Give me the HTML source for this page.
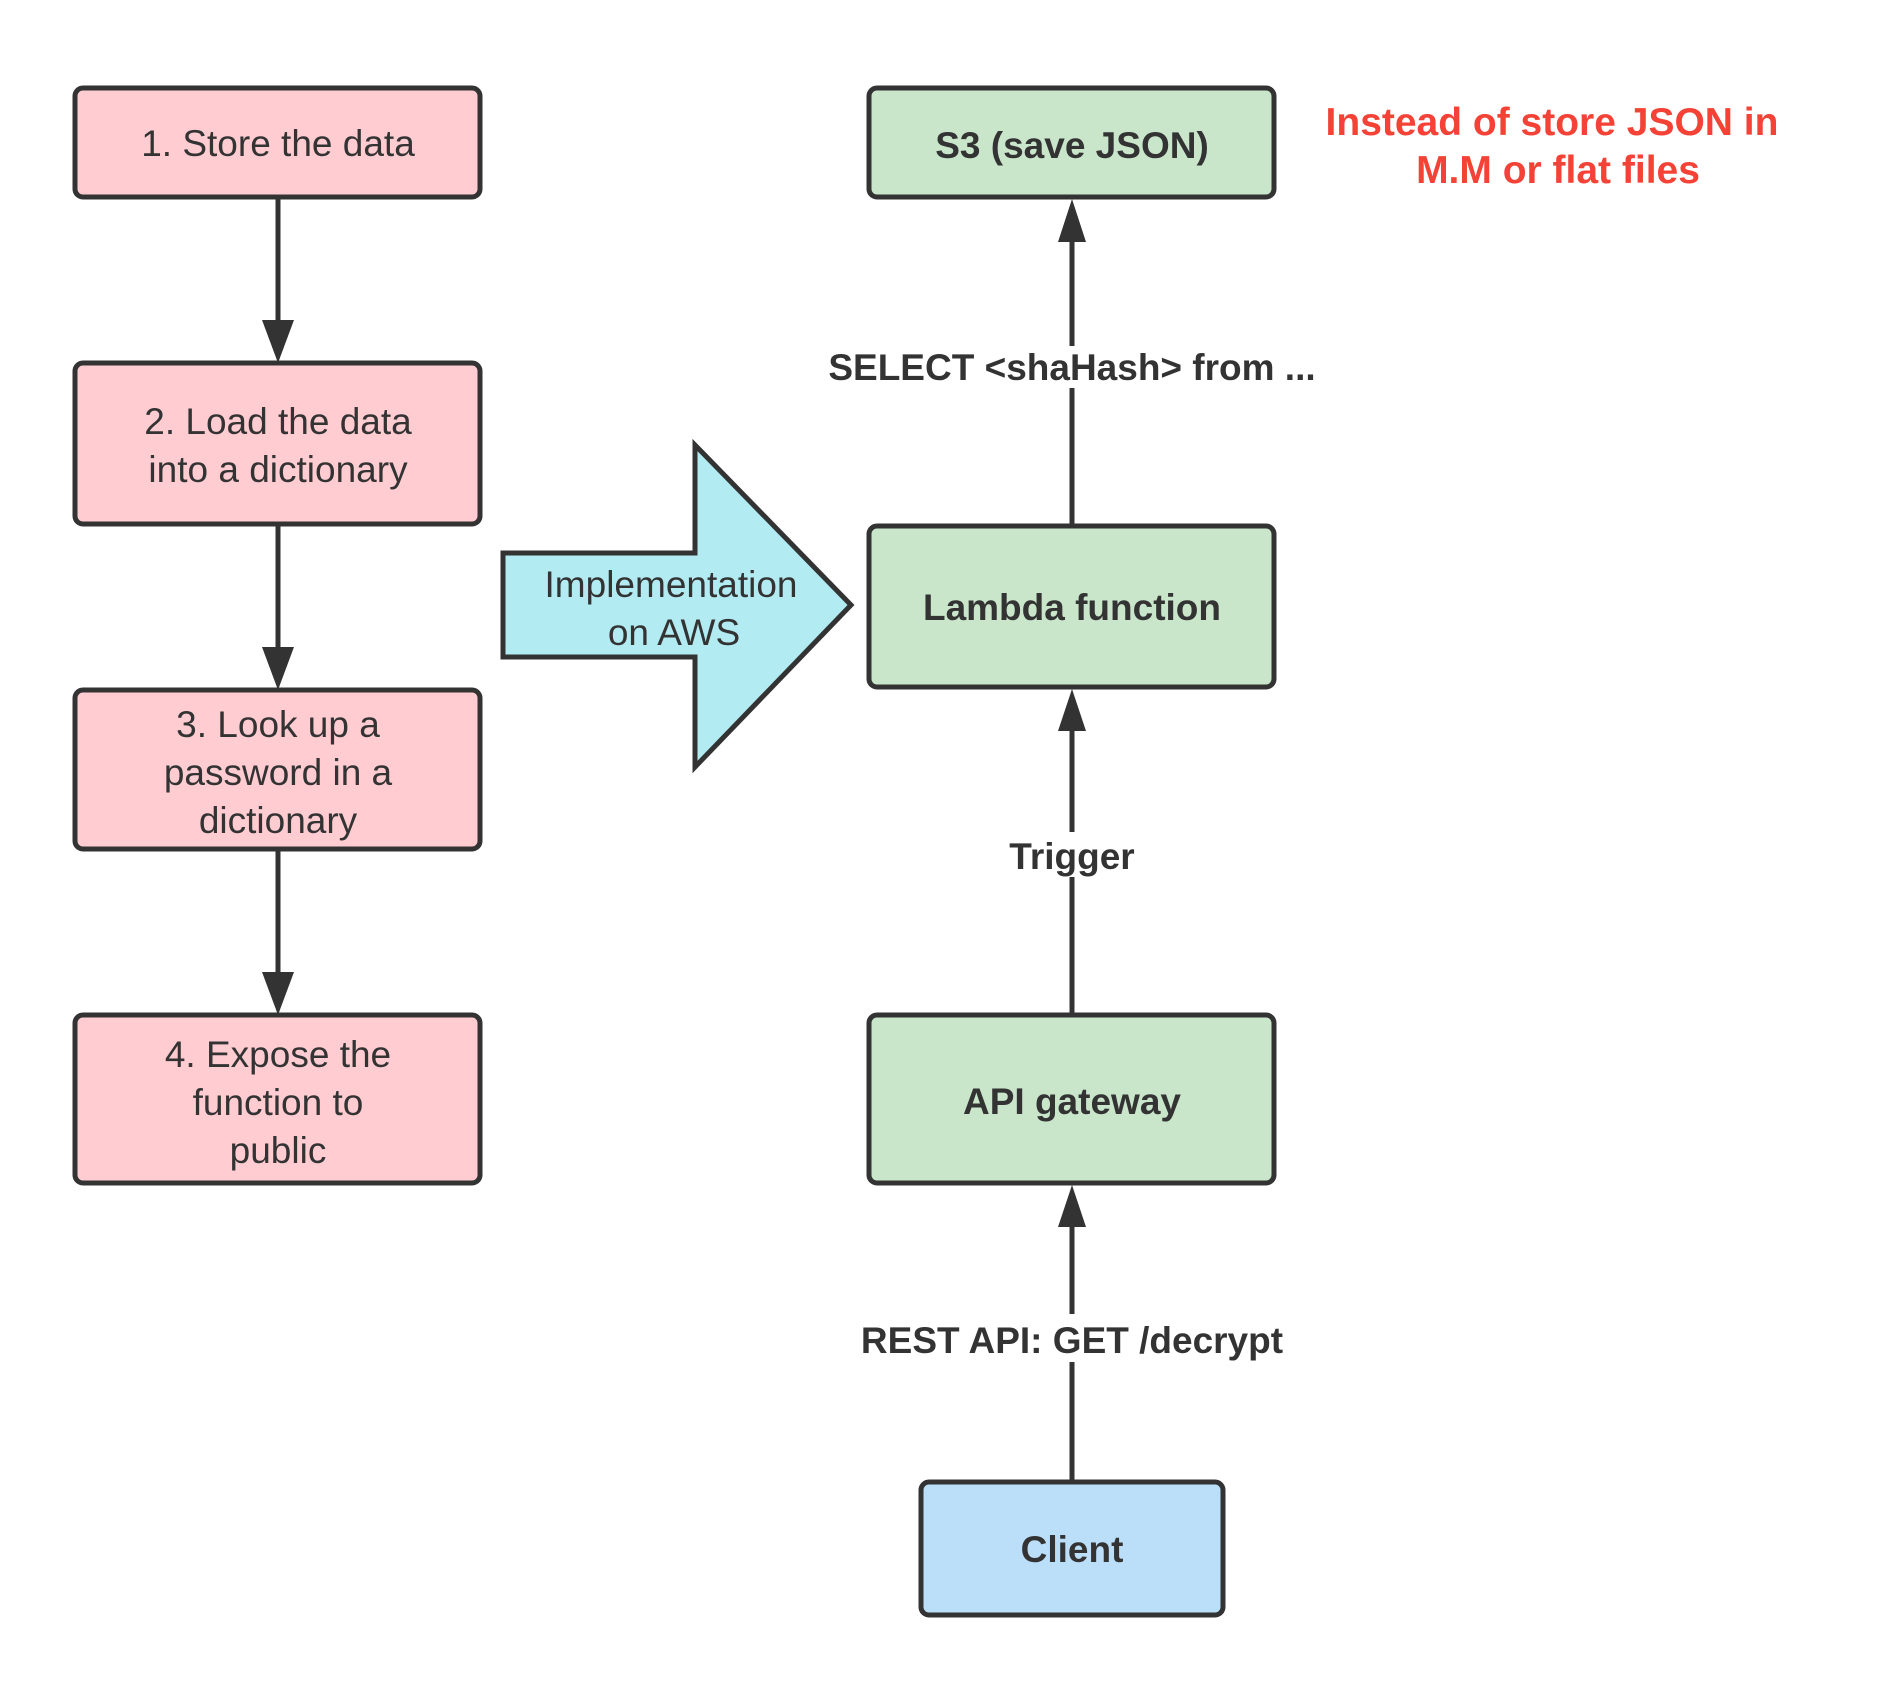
<!DOCTYPE html>
<html><head><meta charset="utf-8"><style>
html,body{margin:0;padding:0;background:#fff;}
svg{display:block;}
text{font-family:"Liberation Sans","Noto Sans CJK SC",sans-serif;fill:#333;}
</style></head><body>
<svg width="1887" height="1687" viewBox="0 0 1887 1687" xmlns="http://www.w3.org/2000/svg">
<g stroke="#333" stroke-width="5">
<rect x="75" y="88" width="405" height="109" rx="8" fill="#ffccd2"/>
<rect x="75" y="363" width="405" height="161" rx="8" fill="#ffccd2"/>
<rect x="75" y="690" width="405" height="159" rx="8" fill="#ffccd2"/>
<rect x="75" y="1015" width="405" height="168" rx="8" fill="#ffccd2"/>
<rect x="869" y="88" width="405" height="109" rx="8" fill="#c9e6cb"/>
<rect x="869" y="526" width="405" height="161" rx="8" fill="#c9e6cb"/>
<rect x="869" y="1015" width="405" height="168" rx="8" fill="#c9e6cb"/>
<rect x="921" y="1482" width="302" height="133" rx="8" fill="#bbdef9"/>
<polygon points="503,553 695,553 695,445 851,605 695,767 695,657 503,657" fill="#b2ebf2"/>
<line x1="278" y1="197" x2="278" y2="330"/>
<line x1="278" y1="524" x2="278" y2="655"/>
<line x1="278" y1="849" x2="278" y2="980"/>
<line x1="1072" y1="232" x2="1072" y2="346"/>
<line x1="1072" y1="388" x2="1072" y2="526"/>
<line x1="1072" y1="722" x2="1072" y2="832"/>
<line x1="1072" y1="877" x2="1072" y2="1015"/>
<line x1="1072" y1="1218" x2="1072" y2="1314"/>
<line x1="1072" y1="1362" x2="1072" y2="1482"/>
</g>
<g fill="#333">
<polygon points="262,320 294,320 278,363"/>
<polygon points="262,647 294,647 278,690"/>
<polygon points="262,972 294,972 278,1015"/>
<polygon points="1058,242 1086,242 1072,199"/>
<polygon points="1058,731 1086,731 1072,689"/>
<polygon points="1058,1227 1086,1227 1072,1185"/>
</g>
<g font-size="37" text-anchor="middle">
<text x="278" y="156">1. Store the data</text>
<text x="278" y="434">2. Load the data</text>
<text x="278" y="482">into a dictionary</text>
<text x="278" y="737">3. Look up a</text>
<text x="278" y="785">password in a</text>
<text x="278" y="833">dictionary</text>
<text x="278" y="1067">4. Expose the</text>
<text x="278" y="1115">function to</text>
<text x="278" y="1163">public</text>
<text x="671" y="597">Implementation</text>
<text x="674" y="645">on AWS</text>
</g>
<g font-size="37" font-weight="bold" text-anchor="middle">
<text x="1072" y="158">S3 (save JSON)</text>
<text x="1072" y="620">Lambda function</text>
<text x="1072" y="1114">API gateway</text>
<text x="1072" y="1562">Client</text>
<text x="1072" y="380">SELECT &lt;shaHash&gt; from ...</text>
<text x="1072" y="869">Trigger</text>
<text x="1072" y="1353">REST API: GET /decrypt</text>
</g>
<g font-size="39" font-weight="bold" text-anchor="middle">
<text x="1552" y="135" style="fill:#f44336">Instead of store JSON in</text>
<text x="1558" y="183" style="fill:#f44336">M.M or flat files</text>
</g>
</svg>
</body></html>
